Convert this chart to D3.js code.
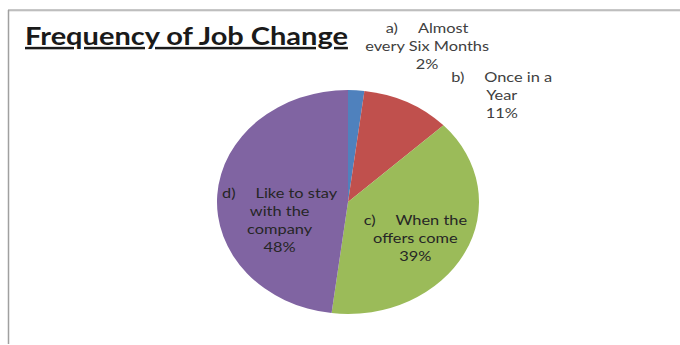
<!DOCTYPE html>
<html>
<head>
<meta charset="utf-8">
<script src="https://cdn.jsdelivr.net/npm/d3@7"></script>
<style>
  html, body { margin: 0; padding: 0; background: #fff; }
  svg { display: block; }
</style>
</head>
<body>
<svg id="chart" width="680" height="345"></svg>
<script>
// Survey answers: how often respondents change jobs
const prefixes = ["a)", "b)", "c)", "d)"];
const labelLines = [
  ["Almost", "every Six Months"],
  ["Once in a", "Year"],
  ["When the", "offers come"],
  ["Like to stay", "with the", "company"]
];
const values = [2, 11, 39, 48];
const colors = ["#4F81BD", "#C0504D", "#9BBB59", "#8064A2"];

const svg = d3.select("#chart");
const W = 680, H = 345;

// the whole chart is drawn with a horizontal stretch
const cx = 348, cy = 202, rx = 131, ry = 112;
const stretch = rx / ry;

// chart frame: top and left edges only
svg.append("line").attr("x1", 8).attr("x2", W).attr("y1", 11).attr("y2", 11)
  .attr("stroke", "#d8d8d8").attr("stroke-width", 1);
svg.append("line").attr("x1", 8).attr("x2", W).attr("y1", 10).attr("y2", 10)
  .attr("stroke", "#8f8f8f").attr("stroke-width", 1.2);
svg.append("line").attr("x1", 8.5).attr("x2", 8.5).attr("y1", 10).attr("y2", H - 1)
  .attr("stroke", "#a0a0a0").attr("stroke-width", 1.5);

// title
svg.append("g")
  .attr("transform", `translate(25,45) scale(${stretch},1)`)
  .append("text")
  .attr("x", 0).attr("y", 0)
  .attr("font-family", "Lato, 'Open Sans', sans-serif")
  .attr("font-weight", "bold")
  .attr("font-size", 24.8)
  .attr("fill", "#1a1a1a")
  .attr("text-decoration", "underline")
  .text("Frequency of Job Change");

// elliptical pie
const pie = d3.pie().sort(null).value(d => d);
const arcs = pie(values);
const arc = d3.arc().innerRadius(0).outerRadius(rx);

const g = svg.append("g")
  .attr("transform", `translate(${cx},${cy}) scale(1,${ry / rx})`);
g.selectAll("path").data(arcs).enter().append("path")
  .attr("d", arc)
  .attr("fill", (d, i) => colors[i])
  .attr("stroke", "none");

// labels: offsets from each slice's centroid
const labelOffsets = [[75, -113], [124, -70.5], [9, -2], [-3, -0.5]];
const labelFill = ["#404040", "#404040", "#262626", "#262626"];
const lineH = 18;

arcs.forEach((a, i) => {
  const c = arc.centroid(a);
  const x = cx + c[0] + labelOffsets[i][0];
  const y = cy + c[1] * (ry / rx) + labelOffsets[i][1];
  const t = svg.append("g")
    .attr("transform", `translate(${x},${y}) scale(${stretch},1)`)
    .append("text")
    .attr("text-anchor", "middle")
    .attr("font-family", "Lato, 'Open Sans', sans-serif")
    .attr("font-size", 14)
    .attr("fill", labelFill[i]);
  const lines = labelLines[i];
  // first line: prefix, tab gap, text
  t.append("tspan").attr("x", 0).attr("y", 0).text(prefixes[i]);
  t.append("tspan").attr("dx", 17).text(lines[0]);
  lines.slice(1).forEach((ln, k) => {
    t.append("tspan").attr("x", 0).attr("y", lineH * (k + 1)).text(ln);
  });
  t.append("tspan").attr("x", 0).attr("y", lineH * lines.length).text(values[i] + "%");
});
</script>
</body>
</html>
